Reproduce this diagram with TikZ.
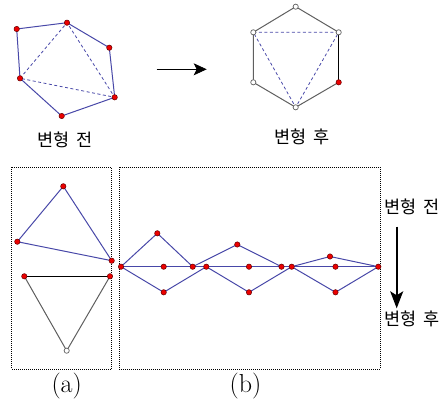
\documentclass[tikz,border=0pt]{standalone}
\usepackage{fontspec}
\newfontfamily\krfont{Noto Sans CJK KR}
\usetikzlibrary{arrows.meta}
\definecolor{edgeblue}{RGB}{72,72,168}
\definecolor{edgegray}{RGB}{95,95,95}
\definecolor{dotred}{RGB}{235,0,0}
\begin{document}
\begin{tikzpicture}[x=1pt,y=-1pt,
  blu/.style={draw=edgeblue, line width=1pt},
  dsh/.style={draw=edgeblue, line width=0.8pt, dash pattern=on 3pt off 2.5pt},
  gry/.style={draw=edgegray, line width=1pt},
  blk/.style={draw=black, line width=1pt},
  frame/.style={draw=black, line width=0.6pt, dash pattern=on 1pt off 1pt},
  lbl/.style={font=\krfont\fontsize{17.5}{17.5}\selectfont, inner sep=0pt},
  sublbl/.style={font=\fontsize{26}{26}\selectfont, inner sep=0pt, anchor=base},
]
\useasboundingbox (0,0) rectangle (448,399);
\newcommand{\rdot}[1]{\filldraw[fill=dotred, draw=black!60!red, line width=0.5pt] (#1) circle (2.7pt);}
\newcommand{\wdot}[1]{\filldraw[fill=white, draw=edgegray, line width=0.7pt] (#1) circle (2.6pt);}
\newcommand{\gap}{\hspace{7pt}}

% ---------- before (top left) ----------
\coordinate (p1) at (16.7,29);
\coordinate (p2) at (67,22.7);
\coordinate (p3) at (109.3,47.7);
\coordinate (p4) at (114.7,97.3);
\coordinate (p5) at (61.7,116);
\coordinate (p6) at (20,78.3);
\draw[blu] (p1) -- (p2) -- (p3) -- (p4) -- (p5) -- (p6) -- cycle;
\draw[dsh] (p6) -- (p2) -- (p4) -- (p6);
\foreach \q in {p1,p2,p3,p4,p5,p6} {\rdot{\q}}
\node[lbl] (lbefore) at (65,140) {변형\gap 전};

% top arrow
\coordinate (ta1) at (156.7,69.3);
\coordinate (ta2) at (206.7,69.3);
\draw[line width=0.8pt, -{Stealth[length=13pt,width=12pt,inset=3pt]}] (ta1) -- (ta2);

% ---------- after (top right) ----------
\coordinate (h1) at (295.7,6.7);
\coordinate (h2) at (338.7,32.3);
\coordinate (h3) at (338.7,82.3);
\coordinate (h4) at (295.7,107.3);
\coordinate (h5) at (253.3,82.3);
\coordinate (h6) at (253.3,32.3);
\draw[gry] (h3) -- (h4) -- (h5) -- (h6) -- (h1) -- (h2);
\draw[blk] (h2) -- (h3);
\draw[dsh] (h6) -- (h2) -- (h4) -- cycle;
\foreach \q in {h1,h2,h4,h5,h6} {\wdot{\q}}
\rdot{h3}
\node[lbl] (lafter) at (302.3,137) {변형\gap 후};

% ---------- (a) ----------
\draw[frame] (11.7,167.3) rectangle (111.7,369);
\coordinate (a1) at (63.3,186.3);
\coordinate (a2) at (17.3,241.7);
\coordinate (a3) at (111.7,260.7);
\draw[blu] (a1) -- (a2) -- (a3) -- cycle;
\coordinate (b1) at (24.3,276.3);
\coordinate (b2) at (110,276.3);
\coordinate (b3) at (66.7,350.7);
\draw[gry] (b2) -- (b3) -- (b1);
\draw[blk] (b1) -- (b2);
\foreach \q in {a1,a2,a3,b1,b2} {\rdot{\q}}
\wdot{b3}
\node[sublbl] (la) at (66.7,392) {(a)};

% ---------- (b) ----------
\draw[frame] (119,167.3) rectangle (380.5,369);
\coordinate (c0) at (121,266.7);
\coordinate (t1) at (157.3,233.3);
\coordinate (m1) at (163.7,266.7);
\coordinate (d1) at (163.7,292.3);
\coordinate (c1) at (192.7,266.7);
\coordinate (e1) at (206.3,266.7);
\coordinate (t2) at (237.3,244.5);
\coordinate (m2) at (249,266.7);
\coordinate (d2) at (249,292.3);
\coordinate (c2) at (281.5,266.7);
\coordinate (e2) at (291.7,266.7);
\coordinate (t3) at (330,256.5);
\coordinate (m3) at (335.5,266.7);
\coordinate (d3) at (335.5,292.3);
\coordinate (c3) at (378.3,266.7);
\draw[blu] (c0) -- (c3);
\draw[blu] (c0) -- (t1) -- (c1) -- (t2) -- (c2);
\draw[blu] (c0) -- (d1) -- (e1) -- (d2) -- (e2);
\draw[blu] (e2) -- (t3) -- (c3);
\draw[blu] (e2) -- (d3) -- (c3);
\foreach \q in {c0,t1,m1,d1,c1,e1,t2,m2,d2,c2,e2,t3,m3,d3,c3} {\rdot{\q}}
\node[sublbl] (lb) at (245.5,392) {(b)};

% right side labels and arrow
\node[lbl, anchor=west] (rbefore) at (384.5,207) {변형\gap 전};
\node[lbl, anchor=west] (rafter) at (384.5,318.5) {변형\gap 후};
\coordinate (va1) at (396.7,226.7);
\coordinate (va2) at (396.7,308.3);
\draw[line width=1.6pt, -{Stealth[length=17pt,width=13pt,inset=4pt]}] (va1) -- (va2);
\end{tikzpicture}
\end{document}
